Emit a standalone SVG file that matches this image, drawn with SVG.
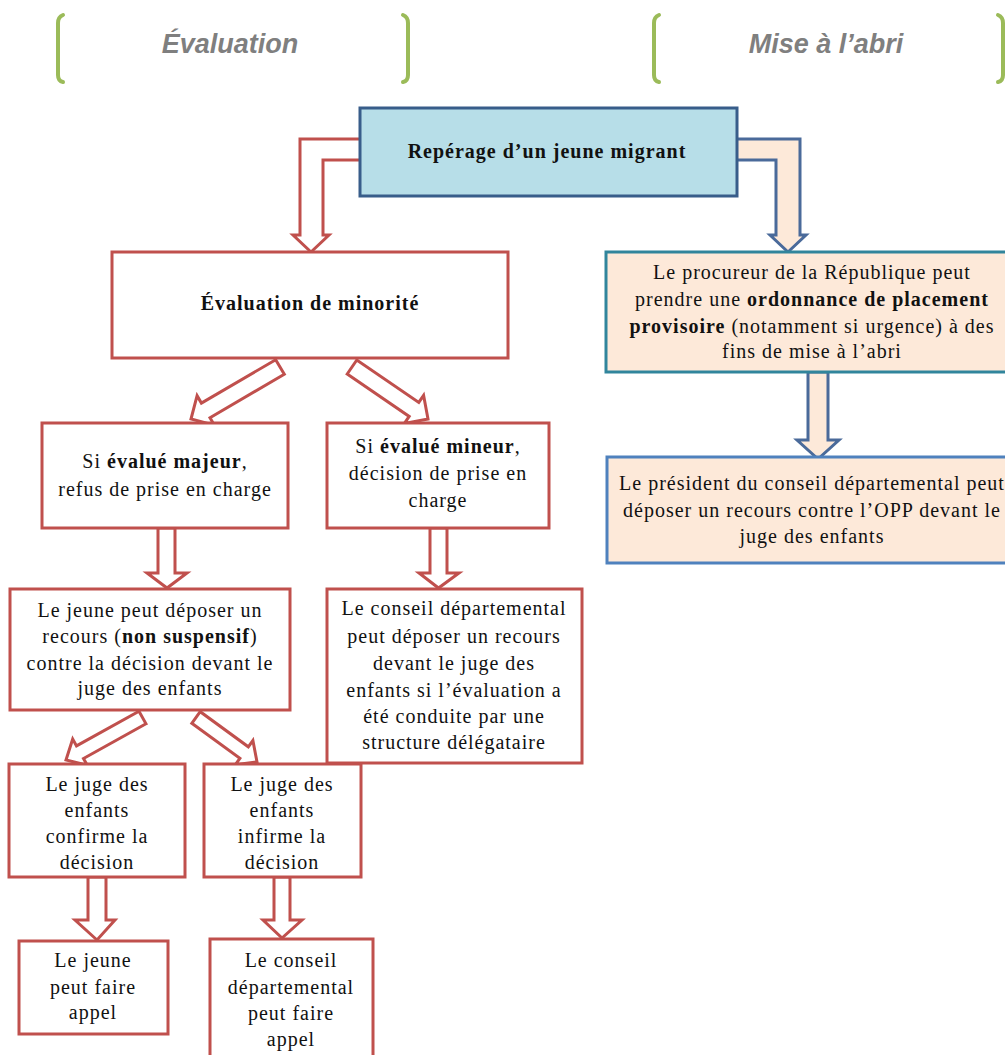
<svg xmlns="http://www.w3.org/2000/svg" width="1005" height="1055" viewBox="0 0 1005 1055">
<style>
.box{fill:#fff;stroke:#c0504d;stroke-width:3}
.arr{fill:#fff;stroke:#c0504d;stroke-width:3;stroke-linejoin:miter}
.barr{fill:#fde9d9;stroke:#4a6a9a;stroke-width:3;stroke-linejoin:miter}
.t{font-family:"Liberation Serif","Times New Roman",serif;font-size:20px;letter-spacing:1px;fill:#111;text-anchor:middle}
.b{font-weight:bold}
.hdr{font-family:"Liberation Sans",Arial,sans-serif;font-style:italic;font-weight:bold;font-size:27px;fill:#7f7f7f;text-anchor:middle}
.br{fill:none;stroke:#9bbb59;stroke-width:4;stroke-linecap:round}
</style>
<rect width="1005" height="1055" fill="#fff"/>
<g id="headers">
<path class="br" d="M63,15 Q58,17 58,23 L58,75 Q58,81 63,82"/>
<path class="br" d="M403,15 Q408,17 408,23 L408,75 Q408,81 403,82"/>
<text class="hdr" x="230" y="53">Évaluation</text>
<path class="br" d="M659,15 Q654,17 654,23 L654,75 Q654,81 659,82"/>
<path class="br" d="M998,15 Q1003,17 1003,23 L1003,75 Q1003,81 998,82"/>
<text class="hdr" x="826" y="53">Mise à l’abri</text>
</g>
<g id="connectors">
<polygon class="arr" points="362,139 300,139 300,235 293,235 311,252 329,235 323,235 323,160 362,160"/>
<polygon class="barr" points="735,139 800,139 800,235 806,235 788,252 770,235 776,235 776,160 735,160"/>
<polygon class="barr" points="808,372 808,440 797,440 818,459 839,440 828,440 828,372"/>
<polygon class="arr" points="284.3,374.3 210,417.7 214.3,425.1 191,419 197.1,395.7 201.4,403.1 275.7,359.7"/>
<polygon class="arr" points="347.2,374 409.2,416.4 404.4,423.4 428,419 423.6,395.4 418.8,402.4 356.8,360"/>
<polygon class="arr" points="158,528 158,573 147,573 167,588 187,573 175,573 175,528"/>
<polygon class="arr" points="430,528 430,573 419,573 438.5,588 459,573 447,573 447,528"/>
<polygon class="arr" points="146,723.8 83.5,758.5 87.3,765.3 66,760 72.7,739.1 76.5,745.9 139,711.2"/>
<polygon class="arr" points="191.8,723.3 239.9,758.4 235.3,764.7 257,762 252.9,740.5 248.3,746.8 200.2,711.7"/>
<polygon class="arr" points="88,877 88,920 75,920 97,940 115,920 106,920 106,877"/>
<polygon class="arr" points="274,877 274,920 263,920 282,938 302,920 290,920 290,877"/>
</g>
<g id="n-reperage">
<rect x="360" y="108" width="377" height="88" fill="#b7dee8" stroke="#385d8a" stroke-width="3"/>
<text class="t b" x="547" y="158">Repérage d’un jeune migrant</text>
</g>
<g id="n-evaluation">
<rect class="box" x="112" y="252" width="396" height="106"/>
<text class="t b" x="310" y="310">Évaluation de minorité</text>
</g>
<g id="n-procureur">
<rect x="606" y="252" width="410" height="120" fill="#fde9d9" stroke="#31859c" stroke-width="3"/>
<text class="t" x="812" y="279">Le procureur de la République peut</text>
<text class="t" x="812" y="306">prendre une <tspan class="b">ordonnance de placement</tspan></text>
<text class="t" x="812" y="333"><tspan class="b">provisoire</tspan> (notamment si urgence) à des</text>
<text class="t" x="812" y="358">fins de mise à l’abri</text>
</g>
<g id="n-president">
<rect x="607" y="457" width="410" height="106" fill="#fde9d9" stroke="#4f81bd" stroke-width="3"/>
<text class="t" x="812" y="490">Le président du conseil départemental peut</text>
<text class="t" x="812" y="517">déposer un recours contre l’OPP devant le</text>
<text class="t" x="812" y="543">juge des enfants</text>
</g>
<g id="n-majeur">
<rect class="box" x="42" y="423" width="246" height="105"/>
<text class="t" x="165" y="468">Si <tspan class="b">évalué majeur</tspan>,</text>
<text class="t" x="165" y="496">refus de prise en charge</text>
</g>
<g id="n-mineur">
<rect class="box" x="327" y="423" width="222" height="105"/>
<text class="t" x="438" y="453">Si <tspan class="b">évalué mineur</tspan>,</text>
<text class="t" x="438" y="480">décision de prise en</text>
<text class="t" x="438" y="507">charge</text>
</g>
<g id="n-recours">
<rect class="box" x="10" y="589" width="280" height="121"/>
<text class="t" x="150" y="617">Le jeune peut déposer un</text>
<text class="t" x="150" y="643">recours (<tspan class="b">non suspensif</tspan>)</text>
<text class="t" x="150" y="670">contre la décision devant le</text>
<text class="t" x="150" y="695">juge des enfants</text>
</g>
<g id="n-conseil-recours">
<rect class="box" x="327" y="589" width="255" height="174"/>
<text class="t" x="454" y="615">Le conseil départemental</text>
<text class="t" x="454" y="643">peut déposer un recours</text>
<text class="t" x="454" y="670">devant le juge des</text>
<text class="t" x="454" y="697">enfants si l’évaluation a</text>
<text class="t" x="454" y="723">été conduite par une</text>
<text class="t" x="454" y="749">structure délégataire</text>
</g>
<g id="n-confirme">
<rect class="box" x="9" y="764" width="176" height="113"/>
<text class="t" x="97" y="791">Le juge des</text>
<text class="t" x="97" y="817">enfants</text>
<text class="t" x="97" y="843">confirme la</text>
<text class="t" x="97" y="869">décision</text>
</g>
<g id="n-infirme">
<rect class="box" x="204" y="764" width="157" height="113"/>
<text class="t" x="282" y="791">Le juge des</text>
<text class="t" x="282" y="817">enfants</text>
<text class="t" x="282" y="843">infirme la</text>
<text class="t" x="282" y="869">décision</text>
</g>
<g id="n-jeune-appel">
<rect class="box" x="19" y="941" width="149" height="93"/>
<text class="t" x="93" y="967">Le jeune</text>
<text class="t" x="93" y="994">peut faire</text>
<text class="t" x="93" y="1019">appel</text>
</g>
<g id="n-conseil-appel">
<rect class="box" x="210" y="939" width="163" height="130"/>
<text class="t" x="291" y="967">Le conseil</text>
<text class="t" x="291" y="994">départemental</text>
<text class="t" x="291" y="1020">peut faire</text>
<text class="t" x="291" y="1046">appel</text>
</g>
</svg>
